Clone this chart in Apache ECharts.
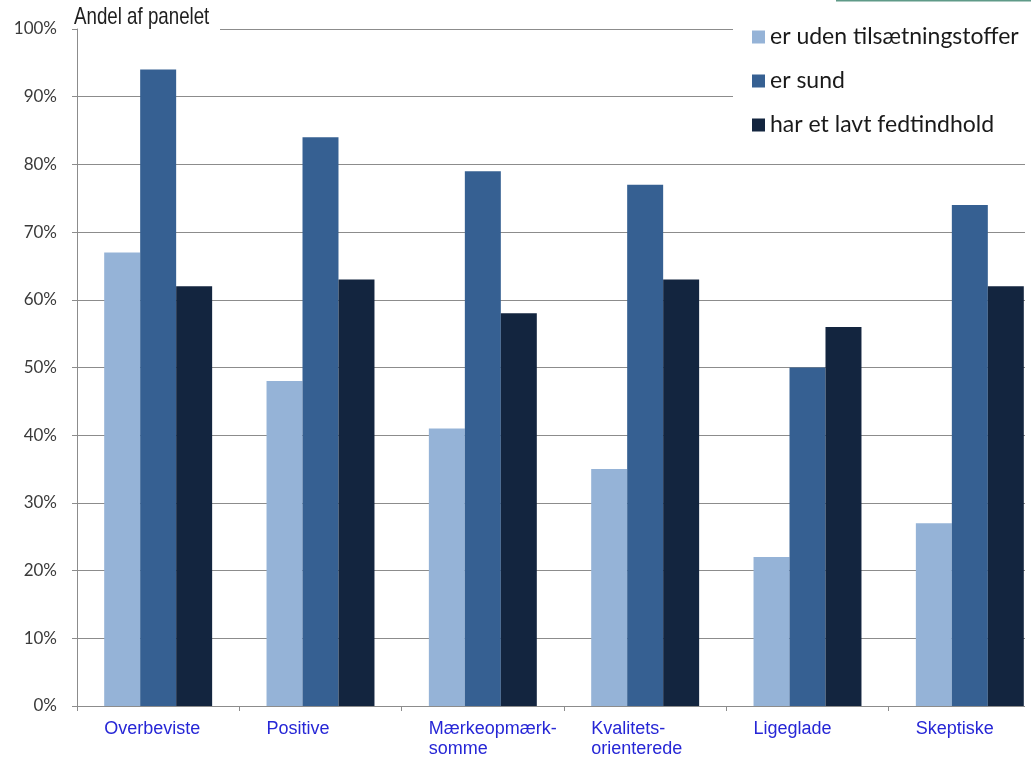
<!DOCTYPE html>
<html>
<head>
<meta charset="utf-8">
<script src="https://cdn.jsdelivr.net/npm/echarts@6/dist/echarts.min.js"></script>
<style>
html,body{margin:0;padding:0;background:#fff;overflow:hidden;width:1031px;height:762px;}
#chart{width:1051px;height:762px;}
</style>
</head>
<body>
<div id="chart"></div>
<script>
var categories = ['Overbeviste', 'Positive', 'Mærkeopmærk-\nsomme', 'Kvalitets-\norienterede', 'Ligeglade', 'Skeptiske'];
var seriesNames = ['er uden tilsætningstoffer', 'er sund', 'har et lavt fedtindhold'];
var udenTilsaetning = [67, 48, 41, 35, 22, 27];
var erSund = [94, 84, 79, 77, 50, 74];
var lavtFedt = [62, 63, 58, 63, 56, 62];
var yTicks = [0, 10, 20, 30, 40, 50, 60, 70, 80, 90, 100];
var titleText = 'Andel af panelet';
var colors = ['#95b3d7', '#366092', '#13253f'];

var chart = echarts.init(document.getElementById('chart'));
var grey = '#8c8c8c';
chart.setOption({
  animation: false,
  backgroundColor: '#ffffff',
  legend: {
    orient: 'vertical',
    left: 733, top: 0,
    width: 298, height: 150,
    padding: [25, 20, 12, 19],
    backgroundColor: '#ffffff',
    itemWidth: 13, itemHeight: 13, itemGap: 20,
    icon: 'rect',
    data: seriesNames,
    textStyle: {fontFamily: 'Lato, sans-serif', fontSize: 23, color: '#1a1a1a', lineHeight: 24}
  },
  grid: {left: 77, top: 29, right: 0, bottom: 56, containLabel: false},
  xAxis: {
    type: 'category',
    data: categories,
    axisLine: {lineStyle: {color: grey, width: 1}},
    axisTick: {show: true, length: 5, lineStyle: {color: grey}},
    axisLabel: {
      interval: 0,
      margin: 13,
      formatter: function (v) { return v.split('\n').map(function (s) { return '{a|' + s + '}'; }).join('\n'); },
      rich: {a: {width: 108, align: 'left', fontFamily: '"Liberation Sans", Arial, sans-serif', fontSize: 18, color: '#2626d6', lineHeight: 20}}
    }
  },
  yAxis: {
    type: 'value',
    min: yTicks[0], max: yTicks[yTicks.length - 1], interval: 10,
    axisLine: {show: true, lineStyle: {color: grey, width: 1}},
    axisTick: {show: true, length: 5, lineStyle: {color: grey}},
    splitLine: {show: true, lineStyle: {color: grey, width: 1}},
    axisLabel: {margin: 20, formatter: '{value}%', fontFamily: 'Lato, "Open Sans", sans-serif', fontSize: 17, color: '#3a3a3a'}
  },
  series: [
    {name: seriesNames[0], type: 'bar', data: udenTilsaetning, barGap: '0%', barCategoryGap: '33.5%', itemStyle: {color: colors[0]}},
    {name: seriesNames[1], type: 'bar', data: erSund, barGap: '0%', barCategoryGap: '33.5%', itemStyle: {color: colors[1]}},
    {name: seriesNames[2], type: 'bar', data: lavtFedt, barGap: '0%', barCategoryGap: '33.5%', itemStyle: {color: colors[2]}}
  ],
  graphic: [
    {type: 'rect', z: 100, shape: {x: 78, y: 26, width: 142, height: 5}, style: {fill: '#ffffff'}},
    {type: 'text', z: 102, x: 74, y: 5, scaleX: 0.78, scaleY: 1,
      style: {text: titleText, fill: '#1e1e1e', font: '24px "Liberation Sans", Arial, sans-serif', textAlign: 'left', textVerticalAlign: 'top'}},
    {type: 'rect', z: 100, shape: {x: 1025, y: 0, width: 30, height: 762}, style: {fill: '#ffffff'}},
    {type: 'line', z: 101, shape: {x1: 836, y1: 0.5, x2: 1031, y2: 0.5}, style: {stroke: '#5f9a88', lineWidth: 2}}
  ]
});
</script>
</body>
</html>
